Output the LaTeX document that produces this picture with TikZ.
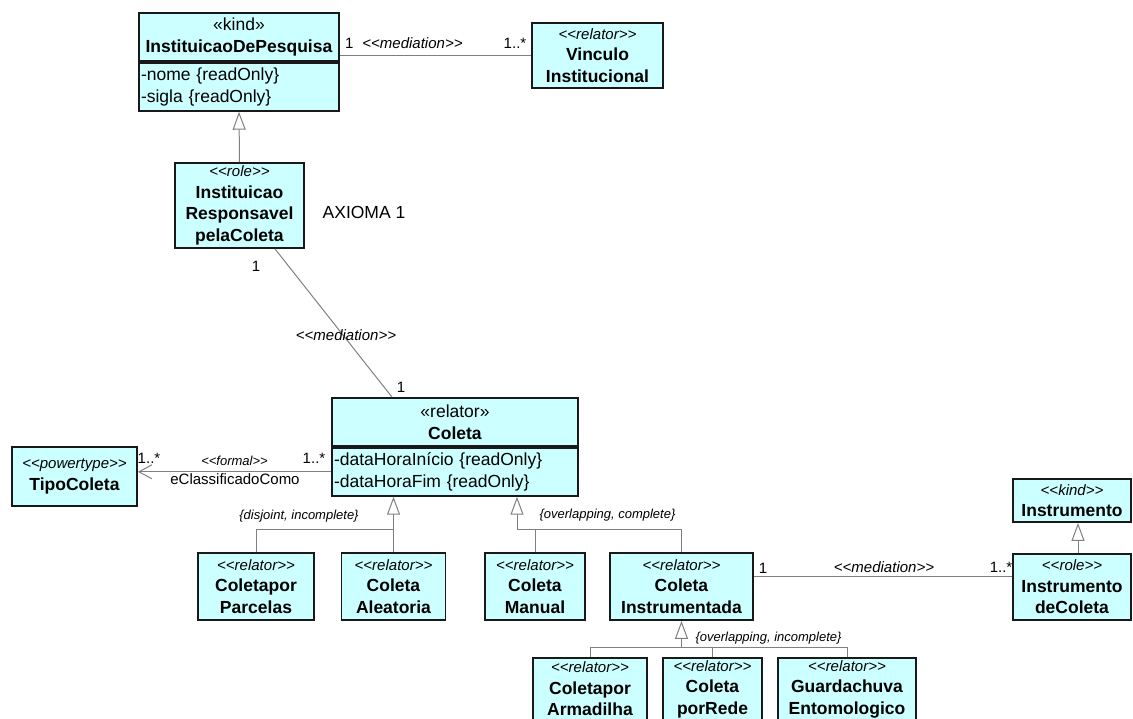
\documentclass[tikz,border=0pt]{standalone}
\usepackage{fontspec}
\setmainfont{Liberation Sans}
\usetikzlibrary{positioning, arrows.meta, calc}
\definecolor{boxfill}{HTML}{CCFFFF}
\definecolor{linegray}{HTML}{808080}
\newcommand{\stereo}[1]{{\fontsize{15}{21.5}\selectfont\itshape <\kern0pt<#1>\kern0pt>}}

\begin{document}
\begin{tikzpicture}[x=1pt, y=-1pt,
  cls/.style={draw=black!90, line width=1.8pt, fill=boxfill, align=center, inner sep=0pt, font=\fontsize{17.5}{21.5}\selectfont},
  attr/.style={cls, anchor=north, align=left, inner xsep=2pt, inner ysep=0pt},
  conn/.style={draw=linegray, line width=1pt},
  gen/.style={conn, -{Triangle[length=18pt, width=13pt, fill=white]}},
  lbl/.style={inner sep=0pt, font=\fontsize{15}{18}\selectfont},
  ster/.style={inner sep=0pt, font=\fontsize{15}{18}\selectfont\itshape},
  cons/.style={inner sep=0pt, font=\fontsize{13}{15}\selectfont\itshape}]
\clip (0,0) rectangle (1133,718);

% Instituicao de pesquisa
\node[cls, minimum width=200pt, minimum height=48pt] (inst) at (239,37) {«kind»\\\textbf{InstituicaoDePesquisa}};
\node[attr, text width=196pt, minimum height=48pt] (instattr) at (inst.south) {-nome \{readOnly\}\\-sigla \{readOnly\}};
\node[cls, minimum width=131pt, minimum height=65pt] (vinculo) at (597.5,55.5) {\stereo{relator}\\\textbf{Vinculo}\\\textbf{Institucional}};
\draw[conn] (vinculo.west) -- (vinculo.west -| inst.east);
\node[lbl, anchor=west] (m1a) at (345,43) {1};
\node[ster] (m1b) at (412.5,43) {<\kern0pt<mediation>\kern0pt>};
\node[lbl] (m1c) at (515,43) {1..*};

% Papel responsavel
\node[cls, minimum width=129pt, minimum height=85pt] (role) at (239.5,205.5) {\stereo{role}\\\textbf{Instituicao}\\\textbf{Responsavel}\\\textbf{pelaColeta}};
\draw[gen] (role.north) -- (instattr.south);
\node[font=\fontsize{17.5}{21.5}\selectfont, inner sep=0pt] (axioma) at (364,212) {AXIOMA 1};

% Coleta
\node[cls, minimum width=246pt, minimum height=48pt] (coleta) at (455,422) {«relator»\\\textbf{Coleta}};
\node[attr, text width=242pt, minimum height=48pt] (coletaattr) at (coleta.south) {-dataHoraInício \{readOnly\}\\-dataHoraFim \{readOnly\}};
\draw[conn] ([xshift=35.5pt]role.south) -- ([xshift=-63pt]coleta.north);
\node[lbl] (m2a) at (256,266) {1};
\node[ster] (m2b) at (346,335) {<\kern0pt<mediation>\kern0pt>};
\node[lbl] (m2c) at (401,387) {1};

% Tipo de coleta
\node[cls, minimum width=125pt, minimum height=59pt] (tipo) at (74.5,476.5) {\stereo{powertype}\\\textbf{TipoColeta}};
\draw[conn, -{Straight Barb[length=13pt, width=14pt]}] (coletaattr.west) -- (coletaattr.west -| tipo.east);
\node[lbl] (m3a) at (149,458) {1..*};
\node[cons] (m3b) at (234.5,461) {<\kern0pt<formal>\kern0pt>};
\node[lbl] (m3c) at (235,479) {eClassificadoComo};
\node[lbl] (m3d) at (314,458) {1..*};

% Subtipos de coleta
\node[cls, minimum width=116pt, minimum height=67pt] (parcelas) at (256,586.5) {\stereo{relator}\\\textbf{Coletapor}\\\textbf{Parcelas}};
\node[cls, minimum width=104pt, minimum height=67pt] (aleatoria) at (393.5,586.5) {\stereo{relator}\\\textbf{Coleta}\\\textbf{Aleatoria}};
\node[cls, minimum width=100pt, minimum height=67pt] (manual) at (535,586.5) {\stereo{relator}\\\textbf{Coleta}\\\textbf{Manual}};
\node[cls, minimum width=143pt, minimum height=67pt] (instrumentada) at (681.5,586.5) {\stereo{relator}\\\textbf{Coleta}\\\textbf{Instrumentada}};
\coordinate (gs1) at (393.5,529);
\coordinate (gs2) at (517,529);
\draw[gen] (aleatoria.north) -- (aleatoria.north |- coletaattr.south);
\draw[conn] (parcelas.north) |- (gs1);
\node[cons] (c1) at (299,516) {\{disjoint, incomplete\}};
\draw[gen] (gs2) -- (gs2 |- coletaattr.south);
\draw[conn] (manual.north) |- (gs2);
\draw[conn] (instrumentada.north) |- (gs2);
\node[cons] (c2) at (607.5,515) {\{overlapping, complete\}};

% Coleta instrumentada
\node[cls, minimum width=114pt, minimum height=62pt] (armadilha) at (590,689) {\stereo{relator}\\\textbf{Coletapor}\\\textbf{Armadilha}};
\node[cls, minimum width=99pt, minimum height=62pt] (rede) at (712.5,689) {\stereo{relator}\\\textbf{Coleta}\\\textbf{porRede}};
\node[cls, minimum width=138pt, minimum height=62pt] (guarda) at (847,689) {\stereo{relator}\\\textbf{Guardachuva}\\\textbf{Entomologico}};
\coordinate (gs3) at (681.5,647);
\draw[gen] (gs3) -- (instrumentada.south);
\draw[conn] (armadilha.north) |- (gs3);
\draw[conn] (guarda.north) |- (gs3);
\draw[conn] (rede.north) -- (rede.north |- gs3);
\node[cons] (c3) at (768.5,638) {\{overlapping, incomplete\}};

% Instrumento
\node[cls, minimum width=118pt, minimum height=43pt] (instr) at (1072,500.5) {\stereo{kind}\\\textbf{Instrumento}};
\node[cls, minimum width=118pt, minimum height=66pt] (instcol) at (1072,587) {\stereo{role}\\\textbf{Instrumento}\\\textbf{deColeta}};
\draw[gen] ([xshift=6pt]instcol.north) -- ([xshift=6pt]instr.south);
\draw[conn] ([yshift=10pt]instrumentada.east) -- ([yshift=10pt]instrumentada.east -| instcol.west);
\node[lbl] (m4a) at (763,568) {1};
\node[ster] (m4b) at (884,567) {<\kern0pt<mediation>\kern0pt>};
\node[lbl] (m4c) at (1001,567) {1..*};
\end{tikzpicture}
\end{document}
